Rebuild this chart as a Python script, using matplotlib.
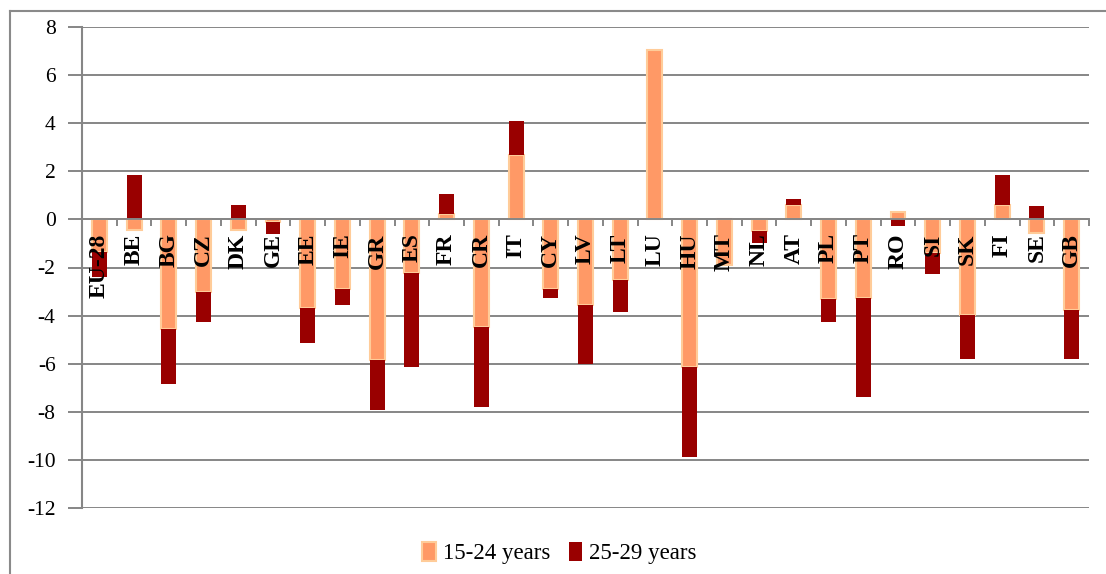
import numpy as np
import matplotlib
matplotlib.use('Agg')
import matplotlib.pyplot as plt
from matplotlib.lines import Line2D

# Data.
countries = ['EU-28', 'BE', 'BG', 'CZ', 'DK', 'GE', 'EE', 'IE', 'GR', 'ES',
             'FR', 'CR', 'IT', 'CY', 'LV', 'LT', 'LU', 'HU', 'MT', 'NL',
             'AT', 'PL', 'PT', 'RO', 'SI', 'SK', 'FI', 'SE', 'GB']
young = [-1.36, -0.46, -4.56, -3.03, -0.46, -0.1, -3.69, -2.9, -5.85, -2.23,
         0.24, -4.49, 2.66, -2.9, -3.57, -2.53, 7.04, -6.13, -1.9, -0.5,
         0.58, -3.32, -3.28, 0.3, -1.41, -3.98, 0.58, -0.58, -3.78]
older = [-1.03, 1.83, -2.27, -1.24, 0.58, -0.5, -1.44, -0.65, -2.08, -3.9,
         0.8, -3.3, 1.45, -0.38, -2.45, -1.33, 0.0, -3.75, 0.07, -0.47,
         0.25, -0.95, -4.09, -0.29, -0.87, -1.83, 1.25, 0.54, -2.03]
yticks = list(range(-12, 9, 2))

serif = 'Liberation Serif'
grey = '#868686'
orange = '#FF9966'
peach = '#FFCC99'
darkred = '#990000'

fig = plt.figure(figsize=(11.06, 5.74), dpi=100)
ax = fig.add_axes([82 / 1106, 1 - 508 / 574, (1089 - 82) / 1106, (508 - 27) / 574])

x = np.arange(len(countries))
young_a = np.array(young)
older_a = np.array(older)
# Excel style stacking: same sign values stack, opposite signs start from zero
bottom = np.where(np.sign(young_a) == np.sign(older_a), young_a, 0.0)

for y in yticks:
    ax.axhline(y, color=grey, lw=1.4, zorder=0.5)

ax.bar(x, young_a, width=0.43, color=orange, edgecolor=peach, linewidth=1.5,
       label='15-24 years', zorder=1)
ax.bar(x, older_a, bottom=bottom, width=0.43, color=darkred, linewidth=0,
       label='25-29 years', zorder=1.2)

ax.set_xlim(-0.5, len(countries) - 0.5)
ax.set_ylim(-12, 8)

for s in ['top', 'right']:
    ax.spines[s].set_visible(False)
ax.spines['left'].set_color(grey)
ax.spines['left'].set_linewidth(1.5)
ax.spines['bottom'].set_position(('data', 0))
ax.spines['bottom'].set_color(grey)
ax.spines['bottom'].set_linewidth(1.4)

ax.set_yticks(yticks)
ax.set_yticklabels([str(v) for v in yticks], fontsize=15.5, family=serif)
ax.tick_params(axis='y', length=10, width=1.4, color=grey, pad=9)

ax.set_xticks(x)
ax.set_xticklabels(countries, rotation=90, fontsize=17, family=serif,
                   fontweight='bold')
ax.set_xticks(np.arange(len(countries) + 1) - 0.5, minor=True)
ax.tick_params(axis='x', which='major', length=0, pad=10)
ax.tick_params(axis='x', which='minor', length=5, width=1.4, color=grey)

leg = ax.legend(loc='center', bbox_to_anchor=(0.506, 1 - 553 / 574),
                bbox_transform=fig.transFigure, ncol=2, frameon=False,
                prop={'family': serif, 'size': 16.5}, handlelength=0.6,
                handleheight=0.9, handletextpad=0.3, columnspacing=0.8)

# outer chart-area frame
fig.add_artist(Line2D([10 / 1106, 10 / 1106], [0, 1 - 11 / 574],
                      transform=fig.transFigure, color='#8a8a8a', lw=1.5))
fig.add_artist(Line2D([10 / 1106, 1], [1 - 11 / 574, 1 - 11 / 574],
                      transform=fig.transFigure, color='#8a8a8a', lw=1.5))

fig.savefig('out.png', dpi=100)
